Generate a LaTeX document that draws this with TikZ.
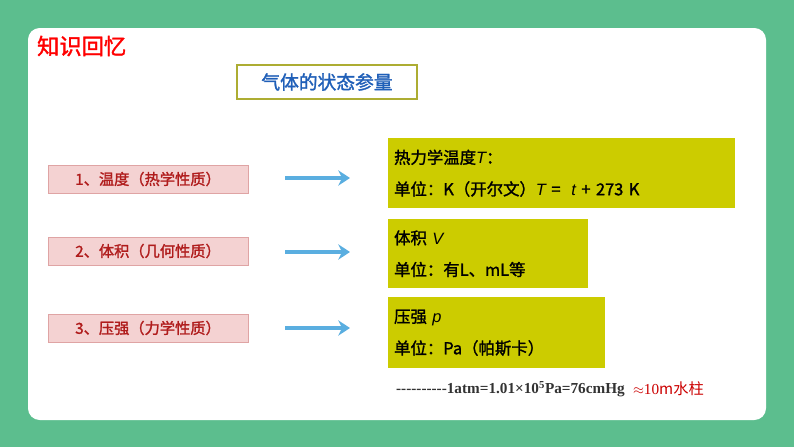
\documentclass[tikz,border=0pt]{standalone}
\usepackage{fontspec}
\setmainfont{Liberation Sans}
\newfontfamily\cjk{Noto Sans CJK SC}
\newfontfamily\cjkb{Noto Sans CJK SC}[FakeBold=1.5]
\newfontfamily\latin{Liberation Sans}
\newcommand{\vsym}[1]{{\latin\itshape #1}}
\usetikzlibrary{arrows.meta,positioning}
\definecolor{bggreen}{HTML}{5CBE8E}
\definecolor{olivebox}{HTML}{CCCC00}
\definecolor{pinkbox}{HTML}{F4D2D2}
\definecolor{darkred}{HTML}{B01C1C}
\definecolor{arrowblue}{HTML}{5AAEE0}
\definecolor{titleblue}{HTML}{1F5FB8}
\begin{document}
\begin{tikzpicture}[x=0.03cm,y=-0.03cm,
leftbox/.style={rectangle, draw=darkred!40, fill=pinkbox, minimum width=200*0.03cm, minimum height=28*0.03cm, inner sep=0pt, font=\cjkb\fontsize{13}{15}\selectfont, text=darkred},
rightbox/.style={rectangle, fill=olivebox, anchor=north west, inner sep=0pt, text width=#1*0.03cm, minimum width=#1*0.03cm, align=left, font=\cjkb\fontsize{14}{27}\selectfont},
bluearrow/.style={draw=arrowblue, line width=3.2pt, -{Stealth[length=10pt,width=13pt]}}]
\useasboundingbox (0,0) rectangle (794,447);
% Background
\fill[bggreen] (0,0) rectangle (794,447);
\fill[white, rounded corners=10pt] (28,28) rectangle (766,420);
% Titles
\node[anchor=west, text=red, font=\cjkb\fontsize{19}{22}\selectfont] (heading) at (33,46) {知识回忆};
\node[draw=olivebox!60!gray, fill=white, line width=0.9pt, minimum width=180*0.03cm, minimum height=34*0.03cm, text=titleblue, font=\cjkb\fontsize{16}{19}\selectfont] (title) at (327,82) {气体的状态参量};
% Nodes
\node[leftbox] (l1) at (148,179) {1、温度（热学性质）};
\node[leftbox] (l2) at (148,251) {2、体积（几何性质）};
\node[leftbox] (l3) at (148,328) {3、压强（力学性质）};
\coordinate (a1) at (285,178);
\coordinate (a2) at (285,252);
\coordinate (a3) at (285,328);
\coordinate (b1) at (350,178);
\coordinate (b2) at (350,252);
\coordinate (b3) at (350,328);
\node[rightbox=347, minimum height=70*0.03cm] (r1) at (388,138) {\hspace{5pt}热力学温度\vsym{T}：\\\hspace{5pt}单位：K（开尔文）\vsym{T} =\ \ \vsym{t} + 273 K};
\node[rightbox=200, minimum height=69*0.03cm] (r2) at (388,219) {\hspace{5pt}体积\ \vsym{V}\\\hspace{5pt}单位：有L、mL等};
\node[rightbox=217, minimum height=71*0.03cm] (r3) at (388,297) {\hspace{5pt}压强\ \vsym{p}\\\hspace{5pt}单位：Pa（帕斯卡）};
\node[anchor=west, font=\fontspec{Liberation Serif}\bfseries\fontsize{13}{15}\selectfont, text=black!80] (note) at (392,389) {----------1atm=1.01×10\textsuperscript{5}Pa=76cmHg};
\node[anchor=west, text=red!80!black, font=\fontspec{Liberation Serif}\fontsize{13}{15}\selectfont] (water) at (note.east) {$\approx$10{\cjk m水柱}};
% Lines
\draw[bluearrow] (a1) -- (b1);
\draw[bluearrow] (a2) -- (b2);
\draw[bluearrow] (a3) -- (b3);
\end{tikzpicture}
\end{document}
